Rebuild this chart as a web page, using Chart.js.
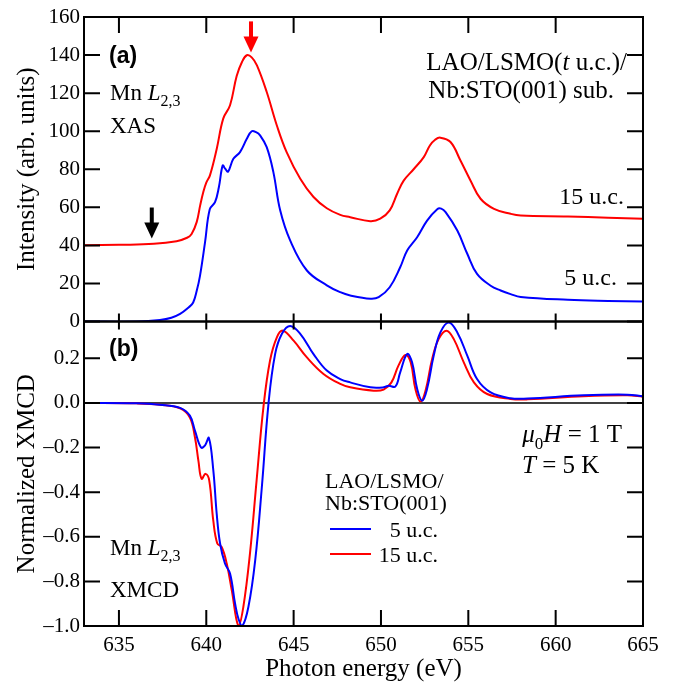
<!DOCTYPE html>
<html>
<head>
<meta charset="utf-8">
<script src="https://cdn.jsdelivr.net/npm/chart.js@4.4.1/dist/chart.umd.min.js"></script>
<style>
  body { margin: 0; background: #fff; }
  canvas { display: block; }
</style>
</head>
<body>
<canvas id="c" width="680" height="687"></canvas>
<script>
// (a) XAS, 5 u.c. (blue)
const xasE5 = [633, 636, 637.35, 638, 638.5, 639.0, 639.25, 639.45, 639.64, 639.93, 640.2, 640.5, 640.72, 640.94, 641.08, 641.25, 641.55, 641.93, 642.32, 642.6, 642.85, 643.08, 643.46, 643.84, 644.23, 644.8, 645.76, 646.9, 647.67, 648.24, 649.4, 649.87, 650.5, 651.1, 651.5, 652.07, 652.64, 653.22, 653.45, 653.7, 654.37, 654.94, 655.5, 656.28, 656.85, 657.42, 658, 660.7, 663, 665];
const xas5 = [0, 0, 0.8, 2, 4, 7.5, 10, 16, 24, 41.7, 59, 62.7, 70.5, 82, 80.3, 78.8, 85.5, 89, 96, 100, 99.5, 97.8, 91.6, 78.5, 58.4, 42.6, 26.8, 19, 15.4, 13.7, 12, 12.8, 18, 28.5, 37.3, 44.3, 53, 59, 59.3, 57.5, 47.8, 35.6, 25, 18.8, 16.3, 14.4, 12.9, 11.4, 10.8, 10.5];

// (a) XAS, 15 u.c. (red)
const xasE15 = [633, 635, 637, 638.3, 638.9, 639.16, 639.45, 639.65, 639.83, 640.0, 640.21, 640.6, 640.97, 641.36, 641.74, 642.05, 642.32, 642.6, 642.9, 643.46, 644.04, 644.6, 645.38, 646.14, 646.9, 647.67, 648.24, 649.39, 649.96, 650.5, 650.92, 651.3, 651.87, 652.45, 652.8, 653.1, 653.4, 653.98, 654.55, 655.13, 655.7, 656.47, 657.42, 658, 660.7, 663, 665];
const xas15 = [40, 40.3, 40.8, 42.2, 44, 46, 52.2, 61, 68, 73, 76.8, 90.8, 106.6, 113.6, 129, 136.5, 139.9, 138.8, 134.6, 120.6, 103, 89, 75, 65.4, 59.5, 56, 54.8, 52.7, 54, 58.4, 67, 74, 80, 86.4, 92.5, 95.5, 96.6, 94.3, 84.6, 74, 64.5, 59.2, 56.6, 55.7, 55.2, 54.5, 54];

// (b) XMCD, 5 u.c. (blue)
const xmcdE5 = [633, 636, 637.34, 638.5, 639.06, 639.35, 639.7, 639.93, 640.15, 640.4, 640.6, 640.79, 641.07, 641.36, 641.65, 641.85, 642.06, 642.41, 642.8, 643.18, 643.56, 643.94, 644.33, 644.8, 645.38, 646.14, 646.9, 647.67, 648.24, 649.39, 650.15, 650.44, 650.83, 651.1, 651.5, 651.78, 652.07, 652.36, 652.64, 653.02, 653.4, 653.88, 654.37, 654.94, 655.5, 656.28, 657.42, 658.4, 661.6, 664.1, 665];
const xmcd5 = [0, -0.002, -0.008, -0.022, -0.057, -0.124, -0.2, -0.19, -0.157, -0.3, -0.5, -0.63, -0.72, -0.765, -0.9, -0.97, -1.0, -0.915, -0.706, -0.378, -0.004, 0.219, 0.31, 0.345, 0.31, 0.219, 0.145, 0.107, 0.092, 0.07, 0.07, 0.077, 0.074, 0.137, 0.219, 0.182, 0.063, 0.01, 0.063, 0.212, 0.316, 0.361, 0.316, 0.212, 0.107, 0.047, 0.021, 0.02, 0.034, 0.037, 0.03];

// (b) XMCD, 15 u.c. (red)
const xmcdE15 = [633, 636, 637.34, 638.5, 639.06, 639.35, 639.55, 639.73, 639.96, 640.17, 640.4, 640.63, 640.88, 641.17, 641.46, 641.84, 642.12, 642.5, 642.88, 643.27, 643.65, 644.04, 644.38, 645.0, 645.76, 646.71, 647.67, 648.24, 649.58, 650.15, 650.6, 651.0, 651.4, 651.7, 651.97, 652.26, 652.55, 652.93, 653.3, 653.75, 654.17, 654.74, 655.32, 656.08, 657.42, 658.4, 661.6, 664.1, 665];
const xmcd15 = [0, -0.002, -0.008, -0.024, -0.065, -0.154, -0.26, -0.34, -0.318, -0.348, -0.527, -0.63, -0.646, -0.72, -0.84, -1.0, -0.915, -0.676, -0.348, -0.02, 0.19, 0.294, 0.324, 0.279, 0.204, 0.13, 0.085, 0.07, 0.055, 0.06, 0.092, 0.167, 0.215, 0.182, 0.063, 0.006, 0.055, 0.197, 0.286, 0.324, 0.286, 0.182, 0.092, 0.04, 0.018, 0.016, 0.03, 0.034, 0.028];

// arrows in panel (a): energy and intensity of the tip
const arrowE = [642.56, 636.88];
const arrowTip = [141.4, 43.6];
const arrowColors = ['#ff0000', '#000000'];

const BLUE = '#0000ff';
const RED = '#ff0000';
const SERIF = '"Liberation Serif"';

function pts(xs, ys) {
  return xs.map((x, i) => ({ x: x, y: ys[i] }));
}

function line(data, color, axis) {
  return {
    data: data,
    yAxisID: axis,
    borderColor: color,
    borderWidth: 2,
    pointRadius: 0,
    fill: false,
    tension: 0.4
  };
}

// texts with italic / subscript parts
function drawRuns(ctx, runs, x, y, align, size) {
  const fontOf = s => (s === 'i' ? 'italic ' : '') + (s === 'sub' ? Math.round(size * 0.68) : size) + 'px ' + SERIF;
  let w = 0;
  runs.forEach(([t, s]) => { ctx.font = fontOf(s); w += ctx.measureText(t).width; });
  let cx = align === 'right' ? x - w : x;
  ctx.textAlign = 'left';
  ctx.textBaseline = 'alphabetic';
  runs.forEach(([t, s]) => {
    ctx.font = fontOf(s);
    ctx.fillText(t, cx, s === 'sub' ? y + size * 0.27 : y);
    cx += ctx.measureText(t).width;
  });
}

const decor = {
  id: 'decor',
  beforeDatasetsDraw(chart) {
    const ctx = chart.ctx, xs = chart.scales.x, yb = chart.scales.yBot;
    const y0 = yb.getPixelForValue(0);
    ctx.save();
    ctx.strokeStyle = '#000';
    ctx.lineWidth = 1.5;
    ctx.beginPath();
    ctx.moveTo(xs.left, y0);
    ctx.lineTo(xs.right, y0);
    ctx.stroke();
    ctx.restore();
  },
  afterDatasetsDraw(chart) {
    const ctx = chart.ctx, xs = chart.scales.x;
    const yt = chart.scales.yTop, yb = chart.scales.yBot;
    const L = xs.left, R = xs.right;
    ctx.save();
    ctx.strokeStyle = '#000';
    ctx.fillStyle = '#000';
    ctx.lineWidth = 2;

    // frames
    ctx.strokeRect(L, yt.top, R - L, yt.bottom - yt.top);
    ctx.strokeRect(L, yb.top, R - L, yb.bottom - yb.top);

    // inward ticks
    const big = 16, small = 8;
    ctx.beginPath();
    xs.ticks.forEach(t => {
      const px = xs.getPixelForValue(t.value);
      if (px > R - 1) return;
      ctx.moveTo(px, yt.top); ctx.lineTo(px, yt.top + big);
      ctx.moveTo(px, yt.bottom - small); ctx.lineTo(px, yb.top + small);
      ctx.moveTo(px, yb.bottom); ctx.lineTo(px, yb.bottom - big);
    });
    [yt, yb].forEach(s => {
      s.ticks.forEach(t => {
        const py = s.getPixelForValue(t.value);
        ctx.moveTo(L, py); ctx.lineTo(L + big, py);
        ctx.moveTo(R, py); ctx.lineTo(R - big, py);
      });
    });
    ctx.stroke();

    // arrows
    arrowE.forEach((e, i) => {
      const ax = xs.getPixelForValue(e);
      const ay = yt.getPixelForValue(arrowTip[i]);
      ctx.fillStyle = arrowColors[i];
      ctx.fillRect(ax - 2, ay - 31, 4, 17);
      ctx.beginPath();
      ctx.moveTo(ax - 7.5, ay - 16);
      ctx.lineTo(ax + 7.5, ay - 16);
      ctx.lineTo(ax, ay);
      ctx.closePath();
      ctx.fill();
    });

    // panel labels
    ctx.fillStyle = '#000';
    ctx.font = 'bold 23px "Liberation Sans"';
    ctx.textAlign = 'left';
    ctx.textBaseline = 'alphabetic';
    ctx.fillText('(a)', 109, 63);
    ctx.fillText('(b)', 109, 356);

    drawRuns(ctx, [['Mn ', ''], ['L', 'i'], ['2,3', 'sub']], 110, 100, 'left', 23);
    drawRuns(ctx, [['XAS', '']], 110, 133, 'left', 23);
    drawRuns(ctx, [['LAO/LSMO(', ''], ['t', 'i'], [' u.c.)/', '']], 627, 70, 'right', 25);
    drawRuns(ctx, [['Nb:STO(001) sub.', '']], 614, 98, 'right', 25);
    drawRuns(ctx, [['15 u.c.', '']], 624, 204, 'right', 24);
    drawRuns(ctx, [['5 u.c.', '']], 617, 285, 'right', 24);

    drawRuns(ctx, [['Mn ', ''], ['L', 'i'], ['2,3', 'sub']], 110, 555, 'left', 23);
    drawRuns(ctx, [['XMCD', '']], 110, 597, 'left', 23);
    drawRuns(ctx, [['\u03bc', 'i'], ['0', 'sub'], ['H', 'i'], [' = 1 T', '']], 622, 442, 'right', 25);
    drawRuns(ctx, [['T', 'i'], [' = 5 K', '']], 522, 473, 'left', 25);

    // legend
    drawRuns(ctx, [['LAO/LSMO/', '']], 325, 488, 'left', 22);
    drawRuns(ctx, [['Nb:STO(001)', '']], 325, 510, 'left', 22);
    const leg = [[BLUE, '5 u.c.', 529], [RED, '15 u.c.', 554]];
    leg.forEach(([c, t, y]) => {
      ctx.strokeStyle = c;
      ctx.lineWidth = 2;
      ctx.beginPath();
      ctx.moveTo(330, y); ctx.lineTo(371, y);
      ctx.stroke();
      ctx.fillStyle = '#000';
      drawRuns(ctx, [[t, '']], 438, y + 8, 'right', 22);
    });
    ctx.restore();
  }
};

const yLabel = v => {
  if (Math.abs(v) < 1e-9) return '0.0';
  return v.toFixed(1).replace('-', '\u2013');
};

new Chart(document.getElementById('c'), {
  type: 'line',
  data: {
    datasets: [
      line(pts(xasE5, xas5), BLUE, 'yTop'),
      line(pts(xasE15, xas15), RED, 'yTop'),
      line(pts(xmcdE5, xmcd5), BLUE, 'yBot'),
      line(pts(xmcdE15, xmcd15), RED, 'yBot')
    ]
  },
  options: {
    responsive: false,
    animation: false,
    devicePixelRatio: 1,
    layout: { padding: { left: 0, right: 37, top: 17, bottom: 0 } },
    plugins: { legend: { display: false }, tooltip: { enabled: false } },
    scales: {
      x: {
        type: 'linear',
        position: 'bottom',
        min: 633,
        max: 665,
        grid: { display: false, drawTicks: false },
        border: { display: false },
        ticks: {
          stepSize: 5,
          includeBounds: false,
          autoSkip: false,
          maxRotation: 0,
          padding: 7,
          color: '#000',
          font: { family: 'Liberation Serif', size: 21 },
          callback: v => String(v)
        },
        title: {
          display: true,
          text: 'Photon energy (eV)',
          color: '#000',
          font: { family: 'Liberation Serif', size: 25 },
          padding: { top: 0, bottom: 3 }
        },
        afterFit: s => { s.height = 61; }
      },
      yTop: {
        type: 'linear',
        position: 'left',
        stack: 'panels',
        stackWeight: 1,
        weight: 2,
        min: 0,
        max: 160,
        grid: { display: false, drawTicks: false },
        border: { display: false },
        ticks: {
          stepSize: 20,
          includeBounds: false,
          autoSkip: false,
          padding: 4,
          color: '#000',
          font: { family: 'Liberation Serif', size: 21 }
        },
        title: {
          display: true,
          text: 'Intensity (arb. units)',
          color: '#000',
          font: { family: 'Liberation Serif', size: 25 },
          padding: { top: 12, bottom: 0 }
        },
        afterFit: s => { s.width = 84; }
      },
      yBot: {
        type: 'linear',
        position: 'left',
        stack: 'panels',
        stackWeight: 1,
        weight: 1,
        min: -1,
        max: 0.365,
        grid: { display: false, drawTicks: false },
        border: { display: false },
        ticks: {
          stepSize: 0.2,
          includeBounds: false,
          autoSkip: false,
          padding: 4,
          color: '#000',
          font: { family: 'Liberation Serif', size: 21 },
          callback: yLabel
        },
        title: {
          display: true,
          text: 'Normalized XMCD',
          color: '#000',
          font: { family: 'Liberation Serif', size: 25 },
          padding: { top: 12, bottom: 0 }
        },
        afterFit: s => { s.width = 84; }
      }
    }
  },
  plugins: [decor]
});
</script>
</body>
</html>
